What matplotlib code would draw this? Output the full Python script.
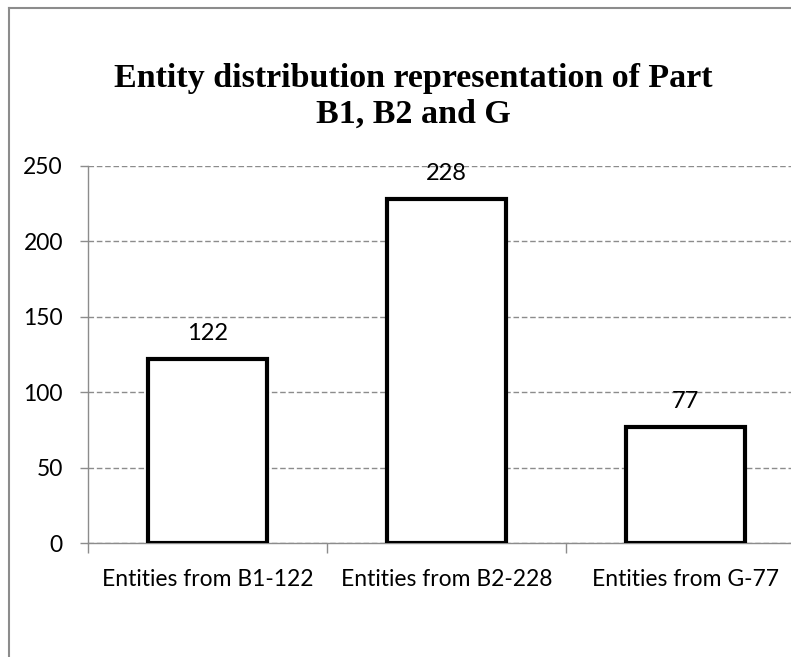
import numpy as np
import matplotlib.pyplot as plt
from matplotlib.lines import Line2D

categories = ['Entities from B1-122', 'Entities from B2-228', 'Entities from G-77']
values = [122, 228, 77]
yticks = [0, 50, 100, 150, 200, 250]

fig = plt.figure(figsize=(7.91, 6.57), dpi=100)
ax = fig.add_axes([88/791, 114/657, 717/791, 377/657])

x = np.arange(len(categories))
ax.bar(x, values, width=0.5, facecolor='white', edgecolor='black', linewidth=3, zorder=3)

for xi, v in zip(x, values):
    ax.text(xi, v + 10, str(v), ha='center', va='bottom', fontsize=17, family='Lato', zorder=4)

ax.set_xlim(-0.5, 2.5)
ax.set_ylim(0, 250)
ax.set_yticks(yticks)
ax.set_yticklabels([str(t) for t in yticks], fontsize=16.5, family='Lato')
ax.yaxis.grid(True, linestyle=(0, (4, 2)), color='#8c8c8c', linewidth=1)
ax.set_axisbelow(True)

# category ticks sit between the bars
ax.set_xticks([-0.5, 0.5, 1.5], minor=False)
ax.set_xticklabels([])
ax.set_xticks(x, minor=True)
ax.set_xticklabels(categories, minor=True, fontsize=16.5, family='Lato')
ax.tick_params(axis='x', which='major', length=7, color='#8c8c8c', width=1)
ax.tick_params(axis='x', which='minor', length=0, pad=19)
ax.tick_params(axis='y', length=6, color='#8c8c8c', width=1, pad=12)

for s in ['top', 'right']:
    ax.spines[s].set_visible(False)
for s in ['left', 'bottom']:
    ax.spines[s].set_color('#8c8c8c')
    ax.spines[s].set_linewidth(1)

fig.text(0.523, 0.853, 'Entity distribution representation of Part\nB1, B2 and G',
         ha='center', va='center', fontsize=24.5, fontweight='bold',
         family='Liberation Serif', linespacing=1.2)

# outer chart border (cropped on the right and bottom)
fig.add_artist(Line2D([9/791, 1], [1 - 8/657, 1 - 8/657], color='#8c8c8c', linewidth=1.5, transform=fig.transFigure))
fig.add_artist(Line2D([9/791, 9/791], [0, 1 - 8/657], color='#8c8c8c', linewidth=1.5, transform=fig.transFigure))

fig.savefig('out.png', dpi=100)
